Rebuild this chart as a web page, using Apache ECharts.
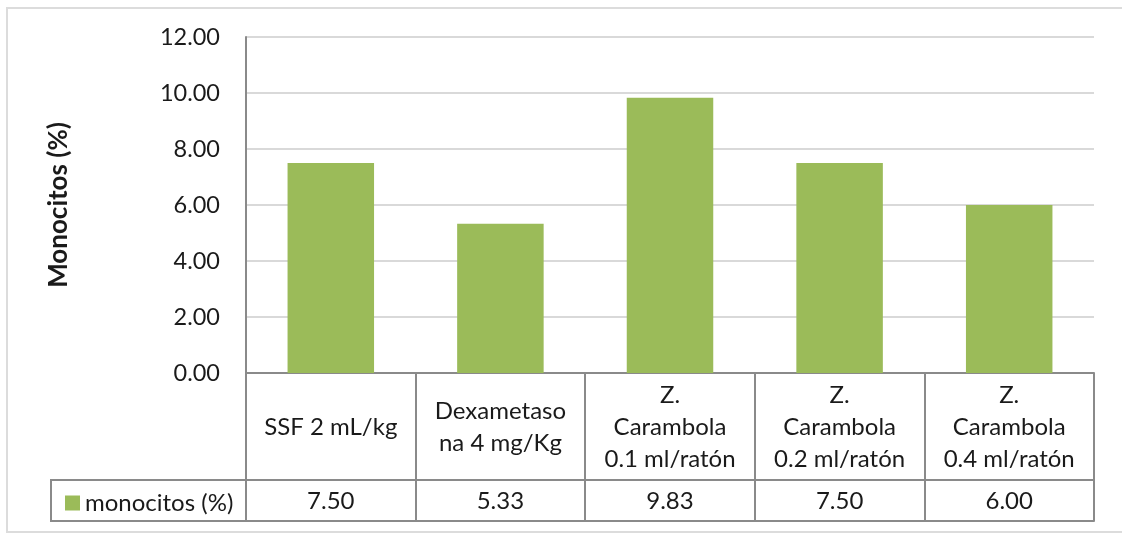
<!DOCTYPE html>
<html>
<head>
<meta charset="utf-8">
<script src="https://cdn.jsdelivr.net/npm/echarts@6/dist/echarts.min.js"></script>
<style>
  html, body { margin: 0; padding: 0; background: #fff; }
  #chart { width: 1122px; height: 534px; }
</style>
</head>
<body>
<div id="chart"></div>
<script>
// Monocitos (%) por grupo de tratamiento, con tabla de datos debajo (estilo Excel)
const CATEGORIES = [
  "SSF 2 mL/kg",
  "Dexametaso\nna 4 mg/Kg",
  "Z.\nCarambola\n0.1 ml/ratón",
  "Z.\nCarambola\n0.2 ml/ratón",
  "Z.\nCarambola\n0.4 ml/ratón",
];
const SERIES_NAME = "monocitos (%)";
const MONOCITOS = [7.5, 5.33, 9.83, 7.5, 6.0];
const Y_TITLE = "Monocitos (%)";

const FONT = "Lato, 'Open Sans', sans-serif";
const TEXT = "#1a1a1a";
const TABLE_LINE = "#8a8a8a";
const GREEN = "#9bbb59";

const ch = echarts.init(document.getElementById("chart"));

ch.setOption({
  backgroundColor: "#fff",
  animation: false,
  textStyle: { fontFamily: FONT },
  grid: { left: 246, right: 28, top: 37, bottom: 161 },
  legend: {
    data: [SERIES_NAME],
    left: 60,
    top: 486,
    icon: "rect",
    itemWidth: 15,
    itemHeight: 15,
    itemGap: 6,
    textStyle: { fontFamily: FONT, fontSize: 24, color: TEXT, padding: [0, 0, 0, 0] },
  },
  xAxis: [
    {
      type: "category",
      data: CATEGORIES,
      position: "bottom",
      axisLine: { show: true, lineStyle: { color: TABLE_LINE, width: 2 } },
      axisTick: { show: true, length: 148, lineStyle: { color: TABLE_LINE, width: 2 } },
      axisLabel: {
        interval: 0,
        margin: 54,
        verticalAlign: "middle",
        fontFamily: FONT,
        fontSize: 24,
        lineHeight: 32,
        color: TEXT,
        align: "center",
      },
    },
    {
      type: "category",
      data: MONOCITOS.map((v) => v.toFixed(2)),
      position: "bottom",
      offset: 107,
      axisLine: { show: true, lineStyle: { color: TABLE_LINE, width: 2 } },
      axisTick: { show: false },
      axisLabel: {
        interval: 0,
        margin: 21,
        verticalAlign: "middle",
        fontFamily: FONT,
        fontSize: 24,
        color: TEXT,
      },
    },
    {
      type: "category",
      data: CATEGORIES,
      position: "bottom",
      offset: 148,
      axisLine: { show: true, lineStyle: { color: TABLE_LINE, width: 2 } },
      axisTick: { show: false },
      axisLabel: { show: false },
    },
  ],
  yAxis: {
    type: "value",
    min: 0,
    max: 12,
    interval: 2,
    name: Y_TITLE,
    nameLocation: "middle",
    nameGap: 174,
    nameTextStyle: { fontFamily: FONT, fontSize: 26, fontWeight: "bold", color: TEXT },
    axisLine: { show: true, lineStyle: { color: TABLE_LINE, width: 2 } },
    axisTick: { show: false },
    axisLabel: {
      margin: 26,
      fontFamily: FONT,
      fontSize: 23.5,
      color: TEXT,
      formatter: (v) => v.toFixed(2),
    },
    splitLine: { lineStyle: { color: "#d9d9d9", width: 2 } },
  },
  graphic: [
    {
      // borde exterior del gráfico
      type: "rect",
      shape: { x: 7, y: 8, width: 1130, height: 524 },
      style: { fill: null, stroke: "#dcdcdc", lineWidth: 2 },
      silent: true,
    },
    {
      // celda de la leyenda en la tabla de datos
      type: "polyline",
      shape: { points: [[246, 480], [51, 480], [51, 521], [246, 521]] },
      style: { fill: null, stroke: TABLE_LINE, lineWidth: 2 },
      silent: true,
    },
  ],
  series: [
    {
      name: SERIES_NAME,
      type: "bar",
      data: MONOCITOS,
      barWidth: "51%",
      itemStyle: { color: GREEN },
    },
  ],
});
</script>
</body>
</html>
